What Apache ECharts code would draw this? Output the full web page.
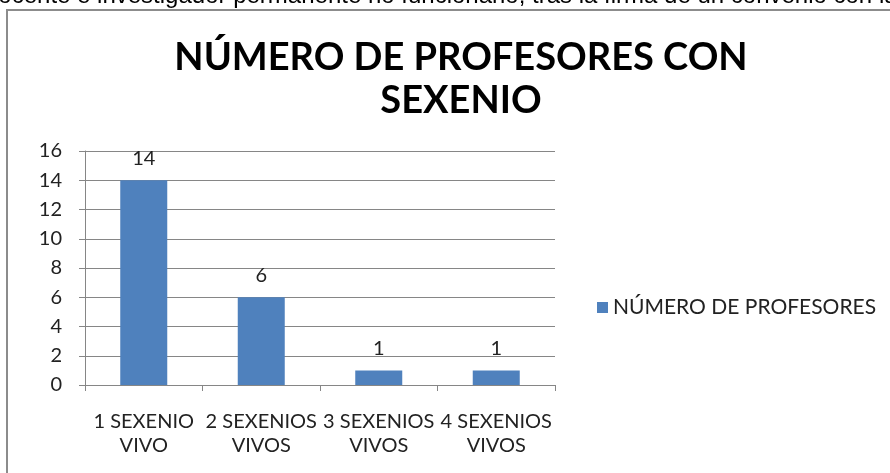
<!DOCTYPE html>
<html><head><meta charset="utf-8">
<script src="https://cdn.jsdelivr.net/npm/echarts@6/dist/echarts.min.js"></script>
<style>html,body{margin:0;padding:0;background:#fff}#c{width:890px;height:473px}</style>
</head><body><div id="c"></div>
<script>
const categories = ['1 SEXENIO\nVIVO', '2 SEXENIOS\nVIVOS', '3 SEXENIOS\nVIVOS', '4 SEXENIOS\nVIVOS'];
const profesores = [14, 6, 1, 1];
const seriesName = 'NÚMERO DE PROFESORES';
const titleText = 'NÚMERO DE PROFESORES CON\nSEXENIO';
const headerText = 'docente e investigador permanente no funcionario, tras la firma de un convenio con la';

const chart = echarts.init(document.getElementById('c'), null, {renderer: 'canvas'});
const F = 'Lato, "Open Sans", sans-serif';
chart.setOption({
  animation: false,
  graphic: [
    {type: 'rect', shape: {x: 7, y: 10, width: 900, height: 480}, style: {fill: 'none', stroke: '#8c8c8c', lineWidth: 2}, z: 0},
    {type: 'text', x: -15, y: 8, style: {text: headerText, font: '24px "Liberation Sans", Arial, sans-serif', fill: '#000', verticalAlign: 'bottom'}, z: 1}
  ],
  title: {
    text: titleText, left: 456, top: 31, textAlign: 'center',
    textStyle: {fontFamily: F, fontWeight: 'bold', fontSize: 38, lineHeight: 43, color: '#000'}
  },
  legend: {
    data: [seriesName], left: 592, top: 292, itemWidth: 11, itemHeight: 11, itemGap: 6,
    icon: 'rect',
    textStyle: {fontFamily: F, fontSize: 21, color: '#222'}
  },
  grid: {left: 85, right: 335, top: 151, bottom: 88, containLabel: false},
  xAxis: {
    type: 'category', data: categories,
    axisLine: {lineStyle: {color: '#868686'}},
    axisTick: {show: true, length: 6, lineStyle: {color: '#868686'}},
    axisLabel: {fontFamily: F, fontSize: 20, lineHeight: 24, color: '#222', margin: 25, interval: 0}
  },
  yAxis: {
    type: 'value', min: 0, max: 16, interval: 2,
    axisLine: {show: true, lineStyle: {color: '#868686'}},
    axisTick: {show: true, length: 6, lineStyle: {color: '#868686'}},
    splitLine: {lineStyle: {color: '#868686'}},
    axisLabel: {fontFamily: F, fontSize: 20, color: '#222', margin: 23}
  },
  series: [{
    name: seriesName, type: 'bar', data: profesores, barWidth: '40%',
    itemStyle: {color: '#4f81bd'},
    label: {show: true, position: 'top', distance: 12, fontFamily: F, fontSize: 20, color: '#222'}
  }]
});
</script></body></html>
